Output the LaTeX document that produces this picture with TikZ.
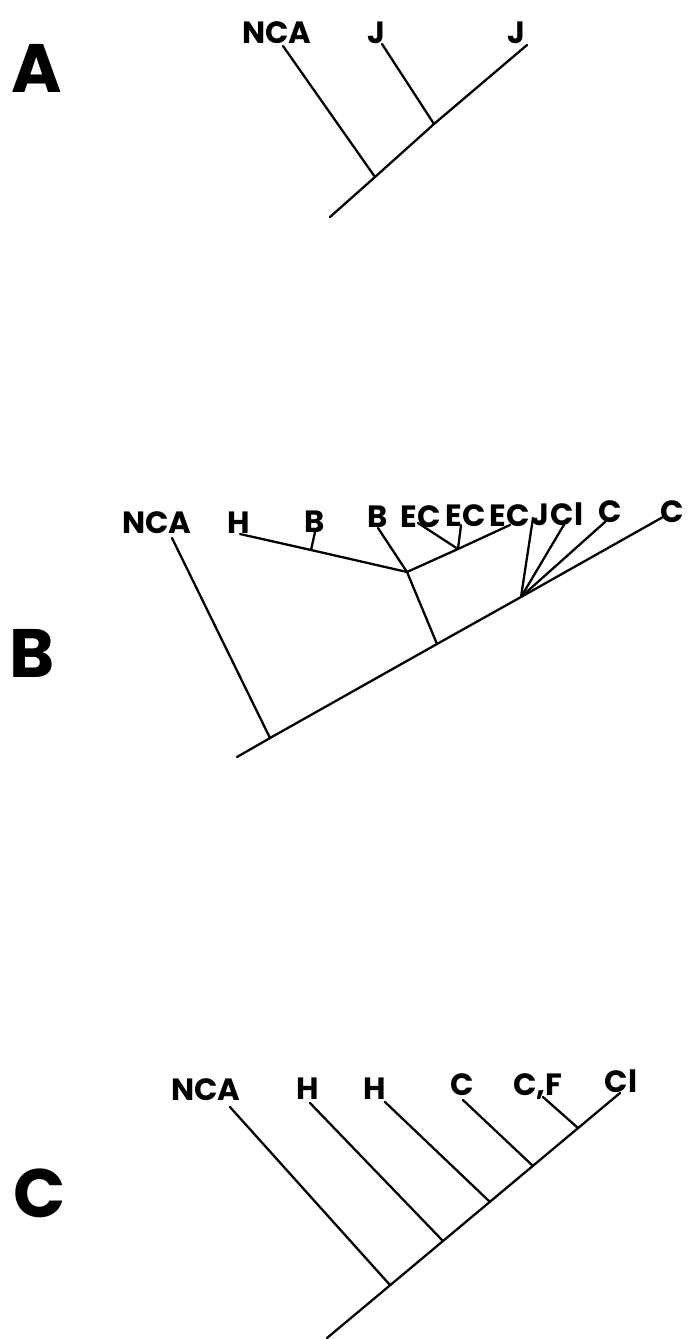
\documentclass[tikz,border=0pt]{standalone}
\usepackage{fontspec}
\setsansfont{Poppins}
\usetikzlibrary{positioning}
\begin{document}
\begin{tikzpicture}[x=0.02cm, y=-0.02cm,
  taxon/.style={font=\sffamily\bfseries\fontsize{17.5}{17.5}\selectfont, inner sep=0pt, anchor=base},
  panel/.style={font=\sffamily\bfseries\fontsize{39}{39}\selectfont, inner sep=0pt, anchor=base},
  branch/.style={line width=1.3pt, line cap=round, line join=round},
]
\useasboundingbox (0,0) rectangle (689,1339);

% panel letters
\node[panel] (pA) at (37,92)   {A};
\node[panel] (pB) at (32,677)  {B};
\node[panel] (pC) at (40,1217) {C};

% ---------------- A ----------------
\node[taxon] (aNCA) at (277,43) {NCA};
\node[taxon] (aJa)  at (376,43) {J};
\node[taxon] (aJb)  at (516,43) {J};
\coordinate (aroot) at (330,217);
\coordinate (atip)  at (527,45);
\coordinate (aj1)   at (375,177);
\coordinate (aj2)   at (434,124);
\coordinate (aNCAt) at (283,46);
\coordinate (aJat)  at (382,44);
\draw[branch] (aroot) -- (aj1) -- (aj2) -- (atip);
\draw[branch] (aNCAt) -- (aj1);
\draw[branch] (aJat) -- (aj2);

% ---------------- B ----------------
\node[taxon] (bNCA) at (157,533) {NCA};
\node[taxon] (bH)   at (239,533) {H};
\node[taxon] (bBa)  at (315,532) {B};
\node[taxon] (bBb)  at (378,527) {B};
\node[taxon] (bECa) at (421,527) {EC};
\node[taxon] (bECb) at (466,526) {EC};
\node[taxon] (bECc) at (510,526) {EC};
\node[taxon] (bJ)   at (540,525) {J};
\node[taxon] (bCl)  at (567,525) {Cl};
\node[taxon] (bCa)  at (610,522) {C};
\node[taxon] (bCb)  at (672,522) {C};
% backbone and junctions
\coordinate (broot) at (237,757);
\coordinate (btip)  at (663,517);
\coordinate (bj1)   at (270,738);
\coordinate (bj2)   at (437,644);
\coordinate (bfan)  at (521,597);
\coordinate (bmid)  at (407,572);
\coordinate (bjB)   at (311,550);
\coordinate (bjEC)  at (458,549);
% branch tips
\coordinate (bNCAt) at (172,538);
\coordinate (bHt)   at (240,534);
\coordinate (bBat)  at (315,532);
\coordinate (bBbt)  at (378,528);
\coordinate (bECat) at (418,523);
\coordinate (bECbt) at (461,525);
\coordinate (bECct) at (510,525);
\coordinate (bJt)   at (533,518);
\coordinate (bClt)  at (565,523);
\coordinate (bCat)  at (605,522);
\draw[branch] (broot) -- (bj1) -- (bj2) -- (bfan) -- (btip);
\draw[branch] (bNCAt) -- (bj1);
\draw[branch] (bBbt) -- (bmid) -- (bj2);
\draw[branch] (bHt) -- (bjB) -- (bmid);
\draw[branch] (bBat) -- (bjB);
\draw[branch] (bmid) -- (bjEC) -- (bECct);
\draw[branch] (bECat) -- (bjEC);
\draw[branch] (bECbt) -- (bjEC);
\foreach \t in {bJt,bClt,bCat}
  \draw[branch] (\t) -- (bfan);

% ---------------- C ----------------
\node[taxon] (cNCA) at (206,1100) {NCA};
\node[taxon] (cHa)  at (308,1099) {H};
\node[taxon] (cHb)  at (375,1099) {H};
\node[taxon] (cC)   at (462,1095) {C};
\node[taxon] (cCF)  at (538,1095) {C,F};
\node[taxon] (cCl)  at (621,1092) {Cl};
\coordinate (croot) at (327,1338);
\coordinate (ctip)  at (620,1093);
\draw[branch] (croot) -- (ctip);
\foreach \n/\tx/\ty/\jx/\jy in {1/230/1107/390/1285, 2/310/1103/443/1241,
  3/385/1102/490/1202, 4/463/1100/533/1166, 5/543/1097/578/1128} {
  \coordinate (ct\n) at (\tx,\ty);
  \coordinate (cj\n) at (\jx,\jy);
  \draw[branch] (ct\n) -- (cj\n);
}
\end{tikzpicture}
\end{document}
